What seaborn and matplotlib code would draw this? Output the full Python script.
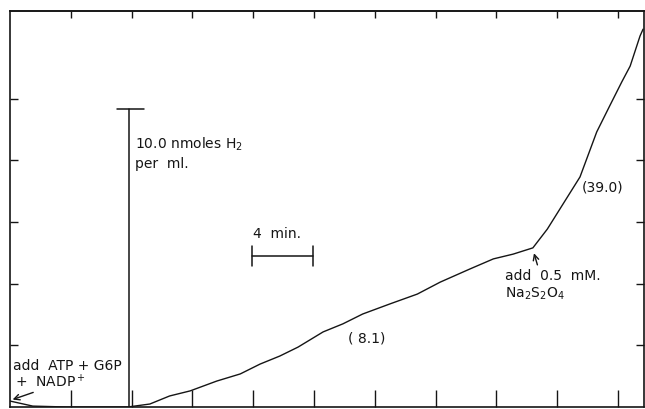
import numpy as np
import pandas as pd
import matplotlib
matplotlib.use("Agg")
import matplotlib.pyplot as plt
import seaborn as sns

# H2 evolution trace (time in min, H2 in nmol/ml)
time_min = [0.0, 1.5, 3.75, 5.9, 7.75, 9.2, 10.5, 11.85, 13.6, 15.15, 16.45,
            17.75, 18.95, 20.6, 21.9, 23.2, 25.0, 26.8, 28.3, 30.25, 31.8,
            33.1, 34.4, 35.35, 36.05, 37.5, 38.6, 39.45, 40.25, 40.8, 41.45, 41.65]
h2_nmol = [0.20, 0.03, 0.0, 0.0, 0.0, 0.10, 0.37, 0.54, 0.87, 1.11, 1.44,
           1.71, 2.01, 2.52, 2.79, 3.12, 3.46, 3.79, 4.19, 4.63, 4.97,
           5.13, 5.34, 5.97, 6.54, 7.72, 9.23, 10.10, 10.91, 11.44, 12.45, 12.68]

# scale bars and rate labels
scale_h2 = 10.0      # nmoles H2 per ml
scale_time = 4.0     # min
rate_before = "( 8.1)"
rate_after = "(39.0)"

df = pd.DataFrame({"time": time_min, "h2": h2_nmol})

sns.set_style("ticks")
plt.rcParams['font.family'] = ['DejaVu Sans']
plt.rcParams['mathtext.default'] = 'regular'

ink = '#151515'
fig = plt.figure(figsize=(6.45, 4.10), dpi=100)
ax = fig.add_axes([10 / 645, 2 / 410, 634 / 645, 396 / 410])

# pixel scale of the chart paper
px_min = 15.2
px_nmol = 29.8
ax.set_xlim(0, 634 / px_min)
ax.set_ylim(0, 396 / px_nmol)

sns.lineplot(data=df, x="time", y="h2", ax=ax, color=ink, lw=1.0,
             estimator=None, sort=False)

# frame and chart-paper ticks (no labels)
for s in ax.spines.values():
    s.set_visible(True)
    s.set_linewidth(1.2)
    s.set_color(ink)
xt = np.arange(4, 41, 4)
yt = np.arange(1, 6) * 2.07
ax.set_xticks(xt)
ax.set_yticks(yt)
ax.tick_params(axis='x', direction='in', length=12, width=1.0, color=ink,
               labelbottom=False)
ax.tick_params(axis='y', direction='in', length=6, width=1.0, color=ink,
               left=True, right=True, labelleft=False)
top = ax.secondary_xaxis('top')
top.set_xticks(xt)
top.tick_params(direction='in', length=5, width=1.0, color=ink, labeltop=False)
top.spines['top'].set_linewidth(1.2)
ax.set_xlabel("")
ax.set_ylabel("")

# vertical H2 scale bar
bx = (129 - 10) / px_min
ax.plot([bx, bx], [0, scale_h2], color=ink, lw=1.1)
ax.plot([bx - 0.8, bx + 1.0], [scale_h2, scale_h2], color=ink, lw=1.1)

# horizontal time scale bar
tx0 = (252 - 10) / px_min
ty = (408 - 257) / px_nmol
ax.plot([tx0, tx0 + scale_time], [ty, ty], color=ink, lw=1.1)
for xx in (tx0, tx0 + scale_time):
    ax.plot([xx, xx], [ty - 0.33, ty + 0.33], color=ink, lw=1.1)

fs = 10
def label(px, py, s):
    ax.text((px - 10) / px_min, (408 - py) / px_nmol, s, fontsize=fs,
            color=ink, ha='left', va='baseline')

label(135, 149, "10.0 nmoles H$_2$")
label(135, 168, "per  ml.")
label(253, 238, "4  min.")
label(348, 343, rate_before)
label(582, 192, rate_after)
label(505, 280, "add  0.5  mM.")
label(505, 298, "Na$_2$S$_2$O$_4$")
label(13, 370, "add  ATP + G6P")
label(15, 387, "+  NADP$^+$")

# arrows to the additions
ax.annotate("", xy=(0.0, 0.22), xytext=(1.7, 0.52),
            arrowprops=dict(arrowstyle='->', color=ink, lw=1.0))
ax.annotate("", xy=(34.42, 5.25), xytext=(34.75, 4.68),
            arrowprops=dict(arrowstyle='->', color=ink, lw=1.0))

fig.savefig("out.png", dpi=100)
